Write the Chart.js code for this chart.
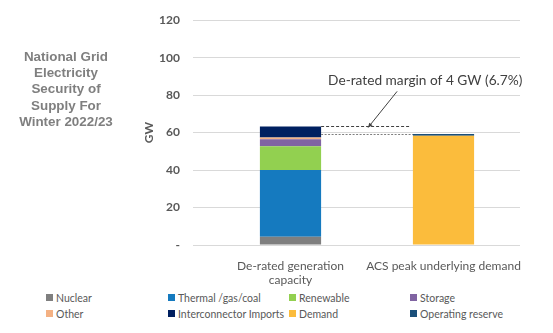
<!DOCTYPE html>
<html>
<head>
<meta charset="utf-8">
<script src="https://cdn.jsdelivr.net/npm/chart.js@4.4.0/dist/chart.umd.min.js"></script>
<style>
  body { margin: 0; background: #fff; }
  #wrap { position: relative; width: 553px; height: 333px; overflow: hidden; }
  #box { position: absolute; left: 0; top: 0; width: 553px; height: 290px; }
  #title {
    position: absolute; left: 5px; top: 49px; width: 122px;
    font: bold 13.4px "Liberation Sans", Arial, sans-serif; line-height: 16.2px;
    color: #7f7f7f; text-align: center;
  }
  #legend {
    position: absolute; left: 46px; top: 291px;
    display: grid; grid-template-columns: 122px 121px 121px 140px; row-gap: 3px;
    font: 10.5px Lato, "Open Sans", sans-serif; color: #595959;
  }
  #legend div { display: flex; align-items: center; height: 13px; white-space: nowrap; }
  #legend span { display: inline-block; flex-shrink: 0; width: 7px; height: 7px; margin-right: 3px; }
</style>
</head>
<body>
<div id="wrap">
  <div id="box"><canvas id="chart"></canvas></div>
  <div id="title">National Grid<br>Electricity<br>Security of<br>Supply For<br>Winter 2022/23</div>
  <div id="legend"></div>
</div>
<script>
const categories = [["De-rated generation", "capacity"], "ACS peak underlying demand"];
const yTicks = [0, 20, 40, 60, 80, 100, 120];

const nuclear = [4.4, 0];
const thermal = [35.6, 0];
const renewable = [12.7, 0];
const storage = [3.7, 0];
const other = [1.0, 0];
const interconnector = [5.9, 0];
const demand = [0, 58.3];
const reserve = [0, 0.9];

const marginText = "De-rated margin of 4 GW (6.7%)";

const series = [
  { label: "Nuclear", data: nuclear, color: "#7f7f7f" },
  { label: "Thermal /gas/coal", data: thermal, color: "#157abf" },
  { label: "Renewable", data: renewable, color: "#92d050" },
  { label: "Storage", data: storage, color: "#8064a2" },
  { label: "Other", data: other, color: "#f4b183" },
  { label: "Interconnector Imports", data: interconnector, color: "#002060" },
  { label: "Demand", data: demand, color: "#fbbc3c" },
  { label: "Operating reserve", data: reserve, color: "#1a4f7a" },
];

const legendEl = document.getElementById("legend");
series.forEach((s) => {
  const item = document.createElement("div");
  const sw = document.createElement("span");
  sw.style.background = s.color;
  item.appendChild(sw);
  item.appendChild(document.createTextNode(s.label));
  legendEl.appendChild(item);
});

// dashed lines + arrow + margin note
const marginPlugin = {
  id: "margin",
  afterDatasetsDraw(chart) {
    const ctx = chart.ctx;
    const y = chart.scales.y;
    const genTotal = series.slice(0, 6).reduce((a, s) => a + s.data[0], 0);
    const demTotal = series.slice(6).reduce((a, s) => a + s.data[1], 0);
    const bar1 = chart.getDatasetMeta(5).data[0];
    const bar2 = chart.getDatasetMeta(6).data[1];
    const x1 = bar1.x + bar1.width / 2;
    const x2 = bar2.x - bar2.width / 2;
    const yTop = Math.round(y.getPixelForValue(genTotal)) + 0.5;
    const yDem = Math.round(y.getPixelForValue(demTotal)) + 0.5;

    ctx.save();
    ctx.lineWidth = 1;
    ctx.strokeStyle = "#404040";
    ctx.setLineDash([3, 2]);
    ctx.beginPath();
    ctx.moveTo(x1, yTop);
    ctx.lineTo(x2 - 3, yTop);
    ctx.stroke();
    ctx.strokeStyle = "#7f7f7f";
    ctx.setLineDash([2, 1.5]);
    ctx.beginPath();
    ctx.moveTo(x1, yDem);
    ctx.lineTo(x2, yDem);
    ctx.stroke();

    // arrow
    ctx.setLineDash([]);
    ctx.strokeStyle = "#404040";
    ctx.fillStyle = "#404040";
    const ax0 = x1 + 76, ay0 = y.getPixelForValue(82);
    const ax1 = x1 + 47, ay1 = yTop + 1;
    ctx.beginPath();
    ctx.moveTo(ax0, ay0);
    ctx.lineTo(ax1, ay1);
    ctx.stroke();
    const ang = Math.atan2(ay1 - ay0, ax1 - ax0);
    ctx.beginPath();
    ctx.moveTo(ax1, ay1);
    ctx.lineTo(ax1 - 5 * Math.cos(ang - 0.45), ay1 - 5 * Math.sin(ang - 0.45));
    ctx.lineTo(ax1 - 5 * Math.cos(ang + 0.45), ay1 - 5 * Math.sin(ang + 0.45));
    ctx.closePath();
    ctx.fill();

    ctx.font = "13.7px Lato, 'Open Sans', sans-serif";
    ctx.fillStyle = "#404040";
    ctx.textBaseline = "middle";
    ctx.textAlign = "left";
    ctx.fillText(marginText, x1 + 7, y.getPixelForValue(87.5));
    ctx.restore();
  },
};

new Chart(document.getElementById("chart"), {
  type: "bar",
  data: {
    labels: categories,
    datasets: series.map((s) => ({
      label: s.label,
      data: s.data,
      backgroundColor: s.color,
      borderWidth: 0,
      barPercentage: 0.4,
      categoryPercentage: 1,
    })),
  },
  options: {
    responsive: true,
    maintainAspectRatio: false,
    animation: false,
    layout: { padding: { left: 138, right: 33, top: 20, bottom: 0 } },
    plugins: { legend: { display: false }, tooltip: { enabled: false } },
    scales: {
      x: {
        stacked: true,
        grid: { display: false },
        border: { display: false },
        ticks: {
          color: "#595959",
          font: { family: "Lato, 'Open Sans', sans-serif", size: 12 },
          padding: 6,
          maxRotation: 0,
          autoSkip: false,
        },
        afterFit(scale) { scale.height = 45; },
      },
      y: {
        stacked: true,
        min: 0,
        max: 120,
        afterBuildTicks(scale) { scale.ticks = yTicks.map((v) => ({ value: v })); },
        grid: { color: "#d9d9d9", tickLength: 21, lineWidth: 1 },
        border: { display: false },
        ticks: {
          color: "#595959",
          font: { family: "Lato, 'Open Sans', sans-serif", size: 12, weight: "bold" },
          padding: 13,
          callback: (v) => (v === 0 ? "-" : v),
        },
        title: {
          display: true,
          text: "GW",
          color: "#595959",
          font: { family: "Lato, 'Open Sans', sans-serif", size: 12, weight: "bold" },
          padding: { top: 4, bottom: 0 },
        },
        afterFit(scale) { scale.width = 76; },
      },
    },
  },
  plugins: [marginPlugin],
});
</script>
</body>
</html>
